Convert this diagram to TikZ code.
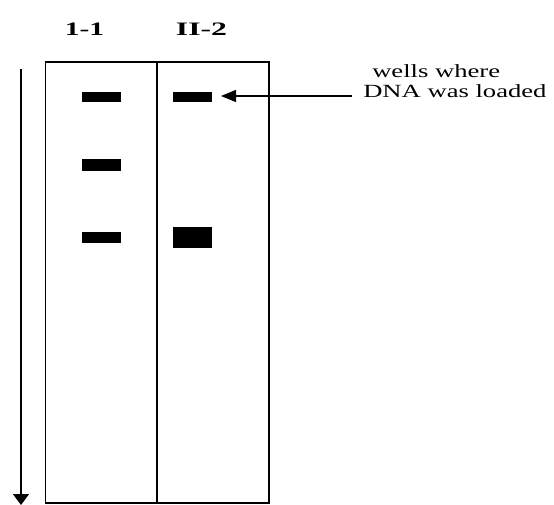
\documentclass[tikz,border=0pt]{standalone}
\usepackage{fontspec}
\setmainfont{Liberation Serif}
\usetikzlibrary{arrows.meta}
\begin{document}
\begin{tikzpicture}[x=1pt,y=-1pt,
  gelline/.style={line width=1.4pt},
  band/.style={fill=black,draw=none},
  lanelabel/.style={font=\fontsize{19}{21}\selectfont\bfseries,inner sep=0pt,anchor=base},
  note/.style={font=\fontsize{18.6}{20}\selectfont,inner sep=0pt,anchor=base west,xscale=1.43}
]
\useasboundingbox (0,0) rectangle (554,505);
% gel
\draw[gelline] (45.5,62) rectangle (269,503);
\draw[gelline] (157,62) -- (157,503);
% lane labels
\node[lanelabel,xscale=1.55] (l1) at (84.5,36) {1-1};
\node[lanelabel,xscale=1.67] (l2) at (201.5,36) {II-2};
% bands lane 1
\fill[band] (82,92) rectangle (121,102);
\fill[band] (82,159.5) rectangle (121,171);
\fill[band] (82,232) rectangle (121,243);
% bands lane 2
\fill[band] (173,92) rectangle (212,102);
\fill[band] (173,227) rectangle (212,248);
% migration arrow
\coordinate (mtop) at (21,69);
\coordinate (mbot) at (21,505);
\draw[line width=1.4pt,-{Triangle[width=16pt,length=11pt]}] (mtop) -- (mbot);
% pointer
\coordinate (pstart) at (352,96);
\coordinate (ptip) at (221,96);
\draw[line width=1.2pt,-{Triangle[width=12pt,length=15pt]}] (pstart) -- (ptip);
% note
\node[note] (n1) at (372,78) {wells where};
\node[note] (n2) at (363,98) {DNA was loaded};
\end{tikzpicture}
\end{document}
